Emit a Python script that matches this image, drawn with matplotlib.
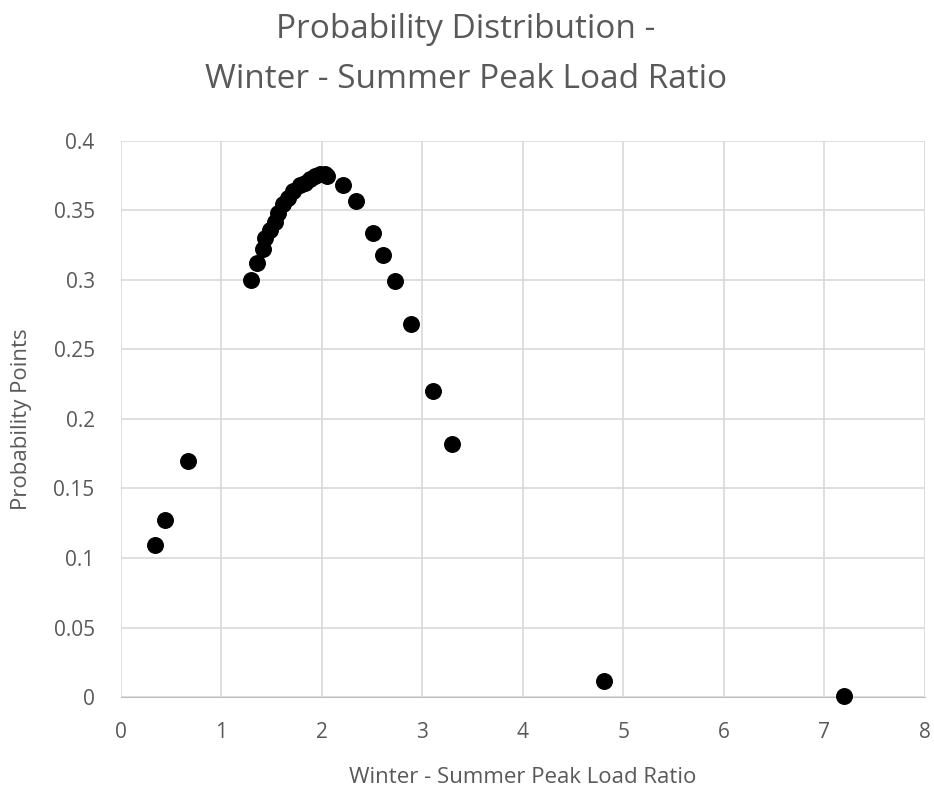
import matplotlib
matplotlib.use("Agg")
import matplotlib.pyplot as plt

# winter/summer peak load ratio vs probability
ratio = [0.34, 0.44, 0.67, 1.29, 1.35, 1.41, 1.43, 1.48, 1.53, 1.56, 1.61, 1.66,
         1.71, 1.78, 1.83, 1.88, 1.93, 1.98, 2.03, 2.05, 2.21, 2.34, 2.51, 2.61,
         2.73, 2.89, 3.11, 3.29, 4.81, 7.20]
prob = [0.109, 0.127, 0.170, 0.300, 0.312, 0.322, 0.330, 0.336, 0.342, 0.348,
        0.355, 0.359, 0.364, 0.368, 0.370, 0.373, 0.375, 0.376, 0.376, 0.375,
        0.368, 0.357, 0.334, 0.318, 0.299, 0.268, 0.220, 0.182, 0.0115, 0.0007]

x_ticks = [0, 1, 2, 3, 4, 5, 6, 7, 8]
y_ticks = [0, 0.05, 0.1, 0.15, 0.2, 0.25, 0.3, 0.35, 0.4]
y_labels = ["0", "0.05", "0.1", "0.15", "0.2", "0.25", "0.3", "0.35", "0.4"]

plt.rcParams["font.family"] = ["Open Sans", "DejaVu Sans"]
text_color = "#595959"
W, H = 934, 789

fig = plt.figure(figsize=(W / 100, H / 100), dpi=100)
ax = fig.add_axes([0.1296, 0.1166, 0.8604, 0.7047])

ax.scatter(ratio, prob, s=125, color="black", zorder=3, clip_on=False)

ax.set_xlim(0, 8)
ax.set_ylim(0, 0.4)
ax.set_xticks(x_ticks)
ax.set_yticks(y_ticks)
ax.set_yticklabels(y_labels)
ax.grid(True, color="#d9d9d9", linewidth=1.2)
ax.set_axisbelow(True)
for side in ["top", "right", "left"]:
    ax.spines[side].set_visible(False)
ax.spines["bottom"].set_color("#bfbfbf")
ax.tick_params(length=0, labelsize=15, colors=text_color)
ax.tick_params(axis="x", pad=18)
ax.tick_params(axis="y", pad=19)

# axis titles placed in figure pixels
fig.text(523 / W, 1 - 783 / H, "Winter - Summer Peak Load Ratio",
         ha="center", va="baseline", fontsize=16, color=text_color)
fig.text(22 / W, 1 - 419 / H, "Probability Points", rotation=90,
         ha="center", va="center", fontsize=16, color=text_color)

fig.text(466 / W, 1 - 38 / H, "Probability Distribution -",
         ha="center", va="baseline", fontsize=24, color=text_color)
fig.text(466 / W, 1 - 88 / H, "Winter - Summer Peak Load Ratio",
         ha="center", va="baseline", fontsize=24, color=text_color)

fig.savefig("out.png", dpi=100)
